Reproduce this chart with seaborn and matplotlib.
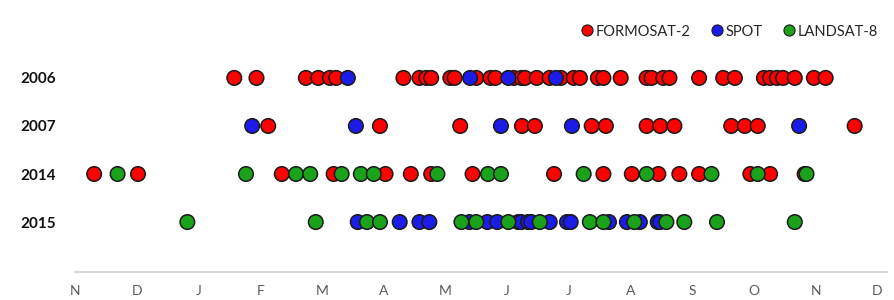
import matplotlib
matplotlib.use("Agg")
import matplotlib.pyplot as plt
import seaborn as sns
import pandas as pd

# acquisition dates, in months counted from 1 November of the previous year
years = ["2006", "2007", "2014", "2015"]
month_labels = ["N", "D", "J", "F", "M", "A", "M", "J", "J", "A", "S", "O", "N", "D"]

formosat_2006 = [2.58, 2.94, 3.74, 3.94, 4.13, 4.23, 5.32, 5.58, 5.69, 5.77, 6.08, 6.15,
                 6.50, 6.73, 6.81, 7.11, 7.23, 7.29, 7.48, 7.69, 7.87, 8.08, 8.18, 8.47,
                 8.56, 8.84, 9.26, 9.34, 9.53, 9.63, 10.11, 10.50, 10.69, 11.16, 11.26,
                 11.37, 11.47, 11.66, 11.97, 12.16]
spot_2006 = [4.42, 6.40, 7.02, 7.79]

formosat_2007 = [3.13, 4.94, 6.24, 7.24, 7.45, 8.37, 8.60, 9.26, 9.48, 9.71, 10.63, 10.85,
                 11.06, 12.63]
spot_2007 = [2.87, 4.55, 6.90, 8.05, 11.73]

formosat_2014 = [0.31, 1.02, 3.35, 4.19, 5.03, 5.44, 5.77, 6.44, 7.76, 8.56, 9.02, 9.45,
                 9.79, 10.11, 10.94, 11.26, 11.82]
landsat_2014 = [0.69, 2.77, 3.58, 3.81, 4.32, 4.63, 4.84, 5.87, 6.69, 6.90, 8.24, 9.26,
                10.31, 11.06, 11.85]

spot_2015 = [4.58, 5.26, 5.58, 5.74, 6.39, 6.68, 6.84, 7.18, 7.23, 7.34, 7.39, 7.69, 7.97,
             8.03, 8.65, 8.94, 9.15, 9.44, 9.48]
landsat_2015 = [1.82, 3.90, 4.73, 4.94, 6.26, 6.50, 7.02, 7.53, 8.34, 8.56, 9.06, 9.58,
                9.87, 10.40, 11.66]

series = [
    ("FORMOSAT-2", "2006", formosat_2006),
    ("SPOT", "2006", spot_2006),
    ("FORMOSAT-2", "2007", formosat_2007),
    ("SPOT", "2007", spot_2007),
    ("FORMOSAT-2", "2014", formosat_2014),
    ("LANDSAT-8", "2014", landsat_2014),
    ("SPOT", "2015", spot_2015),
    ("LANDSAT-8", "2015", landsat_2015),
]
rows = []
for sat, yr, vals in series:
    for v in vals:
        rows.append({"month": v, "row": years.index(yr), "satellite": sat})
df = pd.DataFrame(rows)

palette = {"FORMOSAT-2": "#ff0000", "SPOT": "#1c1ce8", "LANDSAT-8": "#1aa31a"}

sns.set_style("white")
plt.rcParams["font.family"] = ["Lato", "DejaVu Sans"]

fig = plt.figure(figsize=(8.94, 3.0), dpi=100)
ax = fig.add_axes([0.0839, 0.0933, 0.908, 0.711])

sns.scatterplot(
    data=df, x="month", y="row", hue="satellite", palette=palette,
    hue_order=["FORMOSAT-2", "SPOT", "LANDSAT-8"],
    s=110, edgecolor="#1a1a1a", linewidth=1.1, ax=ax, legend=False,
)

ax.set_xlim(0, 13.15)
ax.set_ylim(4.04, -0.4)
ax.set_xticks(range(len(month_labels)))
ax.set_xticklabels(month_labels, color="#595959", fontsize=10)
ax.set_yticks(range(len(years)))
ax.set_yticklabels(years, fontweight="bold", fontsize=11, color="#111111")
ax.tick_params(axis="x", length=0, pad=9)
ax.tick_params(axis="y", length=0, pad=14)
ax.set_xlabel("")
ax.set_ylabel("")
for side in ["top", "right", "left"]:
    ax.spines[side].set_visible(False)
ax.spines["bottom"].set_color("#d9d9d9")
ax.spines["bottom"].set_linewidth(1.5)

handles = [
    plt.Line2D([], [], marker="o", linestyle="", markersize=8,
               markerfacecolor=palette[k], markeredgecolor="#1a1a1a",
               markeredgewidth=0.8, label=k)
    for k in ["FORMOSAT-2", "SPOT", "LANDSAT-8"]
]
fig.legend(handles=handles, loc="center right", bbox_to_anchor=(0.997, 0.895),
           ncol=3, frameon=False, fontsize=10.5, handletextpad=0.1,
           columnspacing=1.3, handlelength=1.0)

fig.savefig("out.png", dpi=100)
